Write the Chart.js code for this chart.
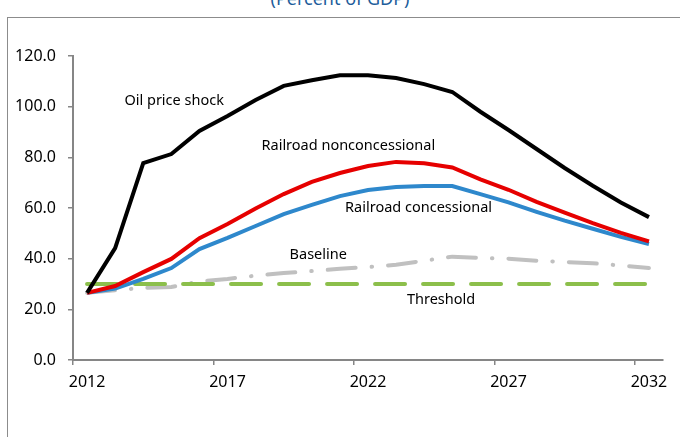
<!DOCTYPE html>
<html>
<head>
<meta charset="utf-8">
<script src="https://cdn.jsdelivr.net/npm/chart.js@4"></script>
<style>
  body { margin: 0; background: #fff; overflow: hidden; }
  #wrap { position: relative; width: 680px; height: 437px; overflow: hidden; }
  #frame { position: absolute; left: 7px; top: 17px; width: 700px; height: 440px; border: 1px solid #8c8c8c; box-sizing: border-box; }
  #title { position: absolute; left: 0; width: 680px; top: -12px; text-align: center; font-family: "Noto Sans", sans-serif; font-size: 18px; line-height: 20px; color: #1d5d9b; }
  canvas { position: absolute; left: 0; top: 0; }
</style>
</head>
<body>
<div id="wrap">
  <div id="title">(Percent of GDP)</div>
  <div id="frame"></div>
  <canvas id="grafica" width="680" height="437"></canvas>
</div>
<script>
const years = ["2012","2013","2014","2015","2016","2017","2018","2019","2020","2021","2022",
               "2023","2024","2025","2026","2027","2028","2029","2030","2031","2032"];
const oilShock      = [26.5, 44.2, 77.7, 81.3, 90.4, 96.3, 102.6, 108.2, 110.4, 112.4, 112.4,
                       111.3, 108.9, 105.8, 98.0, 90.8, 83.3, 75.8, 68.8, 62.2, 56.4];
const railNonconc   = [26.5, 29.2, 34.7, 39.9, 48.1, 53.7, 59.8, 65.5, 70.3, 73.8, 76.6,
                       78.2, 77.7, 76.0, 71.3, 67.2, 62.4, 58.2, 54.0, 50.2, 46.8];
const railConc      = [26.5, 28.2, 32.0, 36.3, 43.8, 48.2, 52.9, 57.6, 61.2, 64.7, 67.1,
                       68.3, 68.7, 68.7, 65.5, 62.2, 58.5, 55.0, 51.8, 48.6, 45.8];
const baseline      = [26.5, 27.5, 28.5, 28.8, 31.0, 32.0, 33.3, 34.3, 35.1, 36.0, 36.7,
                       37.6, 39.2, 40.8, 40.3, 40.0, 39.2, 38.7, 38.2, 37.3, 36.3];
const threshold     = [30, 30, 30, 30, 30, 30, 30, 30, 30, 30, 30,
                       30, 30, 30, 30, 30, 30, 30, 30, 30, 30];
const yTicks = [0, 20, 40, 60, 80, 100, 120];

// text labels anchored in data space: [text, category index, value]
const notes = [
  ["Oil price shock", 3.1, 102.2],
  ["Railroad nonconcessional", 9.3, 84.5],
  ["Railroad concessional", 11.8, 60.0],
  ["Baseline", 8.23, 41.5],
  ["Threshold", 12.6, 23.7]
];

const noteLabels = {
  id: "noteLabels",
  afterDatasetsDraw(chart) {
    const { ctx, scales } = chart;
    ctx.save();
    ctx.font = '14.5px "Noto Sans", sans-serif';
    ctx.fillStyle = "#000";
    ctx.textAlign = "center";
    ctx.textBaseline = "middle";
    notes.forEach(([text, xi, v]) => {
      ctx.fillText(text, scales.x.getPixelForValue(xi), scales.y.getPixelForValue(v));
    });
    ctx.restore();
  }
};

const tickFont = { family: "Noto Sans", size: 16 };
const axisGray = "#868686";

new Chart(document.getElementById("grafica").getContext("2d"), {
  type: "line",
  data: {
    labels: years,
    datasets: [
      { label: "Oil price shock", data: oilShock, borderColor: "#000000", borderWidth: 4 },
      { label: "Railroad nonconcessional", data: railNonconc, borderColor: "#e60000", borderWidth: 4 },
      { label: "Railroad concessional", data: railConc, borderColor: "#2e88cc", borderWidth: 4 },
      { label: "Threshold", data: threshold, borderColor: "#8cbf4b", borderWidth: 4,
        borderDash: [30, 18], borderCapStyle: "round" },
      { label: "Baseline", data: baseline, borderColor: "#c0c0c0", borderWidth: 4,
        borderDash: [28, 16, 0.5, 16], borderCapStyle: "round" }
    ]
  },
  options: {
    responsive: false,
    animation: false,
    devicePixelRatio: 1,
    elements: { point: { radius: 0 }, line: { tension: 0, fill: false } },
    layout: { padding: { top: 56, right: 17, left: 0, bottom: 0 } },
    plugins: { legend: { display: false }, tooltip: { enabled: false }, title: { display: false } },
    scales: {
      x: {
        offset: true,
        grid: {
          offset: true,
          drawOnChartArea: false,
          drawTicks: true,
          tickLength: 5,
          lineWidth: 1.5,
          color: c => (c.index % 5 === 0 ? axisGray : "rgba(0,0,0,0)")
        },
        border: { color: axisGray, width: 2 },
        ticks: {
          autoSkip: false,
          maxRotation: 0,
          padding: 8,
          color: "#000",
          font: tickFont,
          callback: (v, i) => (i % 5 === 0 ? years[i] : "")
        },
        afterFit: s => { s.height = 77; }
      },
      y: {
        min: 0,
        max: 120,
        afterBuildTicks: s => { s.ticks = yTicks.map(v => ({ value: v })); },
        grid: { drawOnChartArea: false, drawTicks: true, tickLength: 5, lineWidth: 1.5, color: axisGray },
        border: { color: axisGray, width: 2 },
        ticks: {
          padding: 12,
          color: "#000",
          font: tickFont,
          callback: v => v.toFixed(1)
        },
        afterFit: s => { s.width = 73; }
      }
    }
  },
  plugins: [noteLabels]
});
</script>
</body>
</html>
